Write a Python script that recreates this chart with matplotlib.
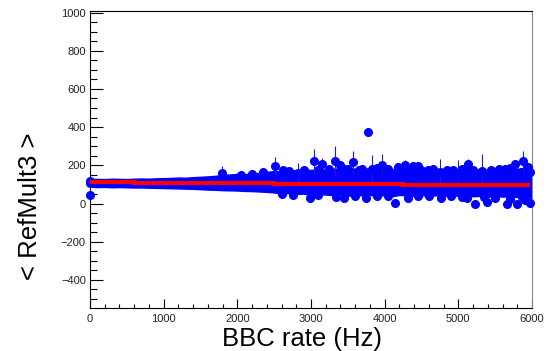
import matplotlib
matplotlib.use("Agg")
import matplotlib.pyplot as plt
from matplotlib.ticker import MultipleLocator

plt.rcParams['font.family'] = ['Liberation Sans', 'DejaVu Sans']

# envelope of the dense blue band of points, read every 100 Hz
band_x = list(range(0, 6001, 100))
band_hi = [128, 129, 128, 130, 129, 128, 130, 131, 130, 132, 133, 134, 136, 135, 138, 140,
           142, 145, 150, 152, 155, 153, 158, 160, 166, 170, 168, 172, 175, 178, 176, 180,
           178, 182, 184, 180, 183, 186, 182, 185, 187, 180, 183, 186, 182, 180, 184, 178,
           182, 185, 180, 183, 178, 181, 176, 180, 183, 185, 182, 188, 190]
band_lo = [88, 86, 87, 85, 86, 85, 84, 84, 83, 82, 81, 80, 79, 78, 77, 75,
           73, 72, 70, 69, 68, 66, 65, 63, 61, 58, 52, 55, 50, 52, 44, 50,
           47, 44, 48, 40, 46, 42, 45, 40, 44, 38, 45, 42, 40, 44, 40, 43,
           38, 44, 40, 42, 38, 40, 35, 40, 36, 38, 34, 32, 30]

# points on the band edges
edge_x = [2050, 2200, 2350, 2700, 2900, 3100, 3250, 3450, 3650, 3900, 4050, 4500, 4650,
          4850, 5050, 5200, 5450, 5550, 5700, 5950,
          2600, 2750, 3100, 3600, 3900, 4050, 4450, 4600, 4900, 5050, 5350, 5500, 5700, 5900]
edge_y = [150, 155, 165, 170, 175, 178, 180, 182, 175, 185, 180, 178, 182,
          176, 180, 175, 178, 180, 185, 190,
          50, 45, 45, 42, 40, 38, 40, 38, 40, 36, 35, 30, 22, 20]

# individual points that stand out of the band
pt_x = [0, 0, 0, 1790, 2510, 2625, 2830, 3040, 3155, 3325, 3395, 3505, 3565, 3690, 3770,
        3825, 3960, 4175, 4275, 4380, 4455, 4595, 4750, 4930, 5000, 5135, 5315, 5635, 5770,
        5875, 5975,
        2980, 3340, 3450, 3740, 4140, 4320, 4760, 5115, 5230, 5395, 5655, 5800, 5860, 5975]
pt_y = [118, 106, 47, 160, 196, 174, 160, 221, 209, 221, 200, 183, 217, 183, 377,
        183, 200, 191, 204, 195, 195, 174, 165, 174, 160, 209, 170, 183, 205,
        221, 165,
        29, 35, 31, 29, 5, 29, 31, 31, -4, 8, 0, 0, 35, 3]
pt_err = [10, 8, 12, 35, 45, 20, 50, 65, 30, 78, 25, 20, 60, 15, 10,
          72, 57, 20, 25, 20, 20, 15, 70, 20, 66, 25, 90, 20, 25,
          55, 20,
          15, 20, 15, 15, 20, 15, 15, 15, 20, 15, 15, 15, 15, 20]

# red step fit
fit_edges = [0, 600, 2500, 4250, 5970]
fit_vals = [112, 106, 102, 98]

fig = plt.figure(figsize=(5.47, 3.51), dpi=100)
ax = fig.add_axes([90/547, 1-308/351, 442/547, 297/351])

ax.fill_between(band_x, band_lo, band_hi, color='#0000ff', lw=1.0, edgecolor='#0000ff', zorder=2)
ax.plot(edge_x, edge_y, 'o', ms=5.5, color='#0000ff', zorder=3)
ax.errorbar(pt_x, pt_y, yerr=pt_err, fmt='o', ms=5.5, color='#0000ff', mec='#0000ff',
            ecolor='#1c1cc8', elinewidth=0.8, capsize=0, zorder=3, clip_on=False)
ax.stairs(fit_vals, fit_edges, color='#ff0000', lw=3, baseline=None, zorder=4)

ax.set_xlim(0, 6000)
ax.set_ylim(-547, 1008)
ax.xaxis.set_major_locator(MultipleLocator(1000))
ax.xaxis.set_minor_locator(MultipleLocator(200))
ax.yaxis.set_major_locator(MultipleLocator(200))
ax.yaxis.set_minor_locator(MultipleLocator(50))
ax.tick_params(axis='both', which='both', direction='in', top=False, right=False,
               labelsize=8, labelcolor='#222222', width=0.8)
ax.tick_params(axis='y', which='major', length=9.4, pad=3)
ax.tick_params(axis='y', which='minor', length=4.7)
ax.tick_params(axis='x', which='major', length=6.5, pad=4)
ax.tick_params(axis='x', which='minor', length=3.2)
for s in ax.spines.values():
    s.set_linewidth(0.8)
ax.spines['right'].set_color('#888888')

fig.text(302/547, 1-346/351, 'BBC rate (Hz)', ha='center', va='baseline', fontsize=18.5)
fig.text(30.5/547, 1-206/351, '< RefMult3 >', rotation=90, ha='center', va='center', fontsize=18.5)

fig.savefig('out.png', dpi=100)
